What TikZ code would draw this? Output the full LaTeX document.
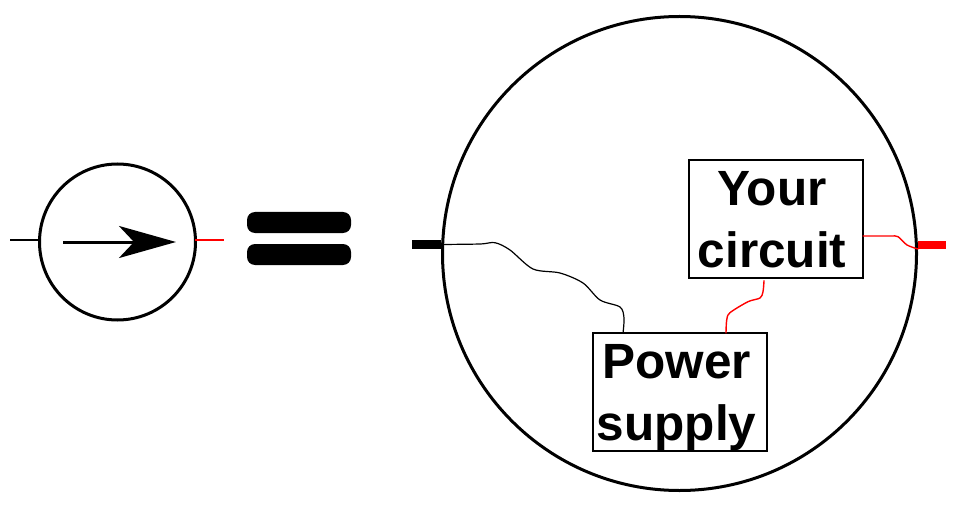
\documentclass[tikz,border=0pt]{standalone}
\usepackage{fontspec}
\setmainfont{Liberation Sans}
\usetikzlibrary{arrows.meta}
\tikzset{
  ring/.style={circle,draw=black,fill=none,line width=#1,inner sep=0pt,outer sep=0pt},
  lead/.style={inner sep=0pt,outer sep=0pt,minimum height=#1,minimum width=29pt},
  eqbar/.style={rectangle,fill=black,rounded corners=8pt,minimum width=104pt,minimum height=21pt,inner sep=0pt,outer sep=0pt},
  block/.style={rectangle,draw=black,line width=1.4pt,inner sep=0pt,outer sep=0pt,
    minimum width=174pt,minimum height=118pt},
  blocktext/.style={inner sep=0pt,outer sep=0pt,align=center,
    font=\fontsize{49.5}{62}\bfseries\selectfont},
  wire/.style={line width=1.2pt,line join=round,line cap=round},
  hotwire/.style={wire,red,line width=1.4pt}
}
\begin{document}
\begin{tikzpicture}[x=1pt,y=-1pt]
  \useasboundingbox (0,0) rectangle (958,505);
  \fill[white] (0,0) rectangle (958,505);

  % Current source symbol
  \node[ring=3pt,minimum size=156pt] (src) at (117.5,242) {};
  \coordinate (srcL) at (10,240);
  \coordinate (srcLend) at (39,240);
  \coordinate (srcR) at (195,240);
  \coordinate (srcRend) at (224,240);
  \draw[line width=1.2pt] (srcL) -- (srcLend);
  \draw[line width=1.2pt,red] (srcR) -- (srcRend);
  \coordinate (arrowTail) at (63,242);
  \coordinate (arrowTip) at (176,242);
  \draw[line width=3pt,-{Stealth[length=57pt,width=32pt,inset=15pt]}] (arrowTail) -- (arrowTip);

  % Equals sign
  \node[eqbar] (eqTop) at (299,222.5) {};
  \node[eqbar] (eqBottom) at (299,254.5) {};

  % Expanded view
  \node[ring=3pt,minimum size=474pt] (outer) at (679.5,253.5) {};
  \node[lead=9pt,fill=black] (blackLead) at (426,244.5) {};
  \node[lead=8pt,fill=red,minimum width=28pt] (redLead) at (932,245) {};

  \node[block] (circuit) at (776,219) {};
  \node[block] (supply) at (680,392) {};
  \node[blocktext] (circuitText) at (772,220) {Your\\circuit};
  \node[blocktext] (supplyText) at (676.5,398) {Power\\supply};

  % Wiring between the terminals and the two blocks
  \coordinate (circuitFoot) at (764,280.7);
  \draw[wire] plot[smooth,tension=0.5] coordinates {
    (blackLead.east) (480,244) (495,242.7) (510,250) (533,269) (560,273)
    (583,283) (600,300) (620,307) (624,318) (623,0 |- supply.north)};
  \draw[hotwire] plot[smooth,tension=0.5] coordinates {
    (726,0 |- supply.north) (726.7,320) (730,312.7) (748,301.7) (760,298) (763,291.7) (circuitFoot)};
  \draw[hotwire] plot[smooth,tension=0.5] coordinates {
    (circuit.east |- 0,236) (890,236) (898,236.7) (907,245) (redLead.south west)};
\end{tikzpicture}
\end{document}
